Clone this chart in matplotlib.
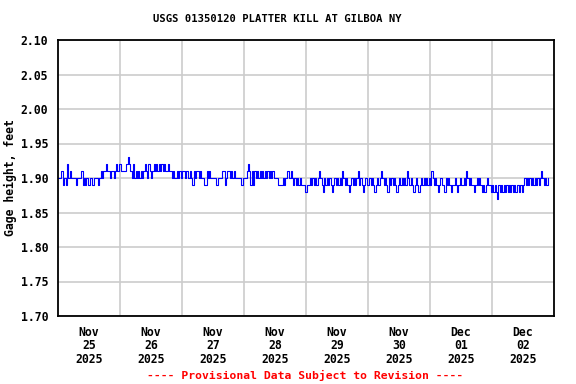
import numpy as np
import pandas as pd
import matplotlib
matplotlib.use("Agg")
import matplotlib.pyplot as plt
import matplotlib.dates as mdates

# Gage height, 30-minute readings, coded as digits: value = 1.85 + digit * 0.01
start = "2025-11-25 00:00"
day_codes = [
    "556645475655" "554555645454" "454455545656" "676656656767",  # Nov 25
    "766667876575" "656565676576" "567676767676" "676656556565",  # Nov 26
    "665665654656" "656554465655" "554455566456" "656565555545",  # Nov 27
    "556764646565" "656565656565" "554444545665" "654545454443",  # Nov 28
    "344545454565" "435454543454" "545465454345" "454564543454",  # Nov 29
    "454543454565" "454354545434" "545454654543" "454345454545",  # Nov 30
    "465454345443" "545434454345" "445465454434" "545434345443",  # Dec 01
    "434324343434" "343434344343" "454545454545" "45654545",      # Dec 02
]
codes = "".join(day_codes)
gage = [round(1.85 + int(c) * 0.01, 2) for c in codes]
times = pd.date_range(start, periods=len(gage), freq="30min")

title = "USGS 01350120 PLATTER KILL AT GILBOA NY"
ylabel = "Gage height, feet"
note = "---- Provisional Data Subject to Revision ----"
yticks = [1.70, 1.75, 1.80, 1.85, 1.90, 1.95, 2.00, 2.05, 2.10]

mono = "DejaVu Sans Mono"

fig = plt.figure(figsize=(5.76, 3.84), dpi=100)
ax = fig.add_axes([58 / 576, 1 - 316 / 384, (554 - 58) / 576, (316 - 40) / 384])

ax.plot(times, gage, color="#0000ff", lw=0.8, drawstyle="steps-post")

x0 = pd.Timestamp("2025-11-25 00:00")
x1 = pd.Timestamp("2025-12-03 00:00")
ax.set_xlim(x0, x1)
ax.set_ylim(1.70, 2.10)

# labels at noon, grid at midnight
noons = pd.date_range("2025-11-25 12:00", periods=8, freq="D")
mids = pd.date_range("2025-11-26 00:00", periods=7, freq="D")
ax.set_xticks(noons)
ax.set_xticklabels([d.strftime("%b\n%d\n%Y") for d in noons],
                   fontfamily=mono, fontweight="bold", fontsize=8.3, linespacing=1.05)
ax.set_xticks(mids, minor=True)
ax.tick_params(axis="x", which="both", length=0, pad=7)
ax.grid(True, axis="x", which="minor", color="#cccccc", lw=1.2)

ax.set_yticks(yticks)
ax.set_yticklabels([f"{v:.2f}" for v in yticks], fontfamily=mono,
                   fontweight="bold", fontsize=8.3)
ax.tick_params(axis="y", length=0, pad=7)
ax.grid(True, axis="y", which="major", color="#cccccc", lw=1.2)
ax.set_axisbelow(True)

for s in ax.spines.values():
    s.set_linewidth(1.3)
    s.set_color("black")

ax.set_ylabel(ylabel, fontfamily=mono, fontweight="bold", fontsize=8.3, labelpad=3)

fig.text(277 / 576, 1 - 19 / 384, title, ha="center", va="center",
         fontfamily=mono, fontweight="bold", fontsize=7.6)
fig.text(305 / 576, 1 - 375 / 384, note, ha="center", va="center", color="red",
         fontfamily=mono, fontweight="bold", fontsize=8.2)

fig.savefig("out.png", dpi=100)
